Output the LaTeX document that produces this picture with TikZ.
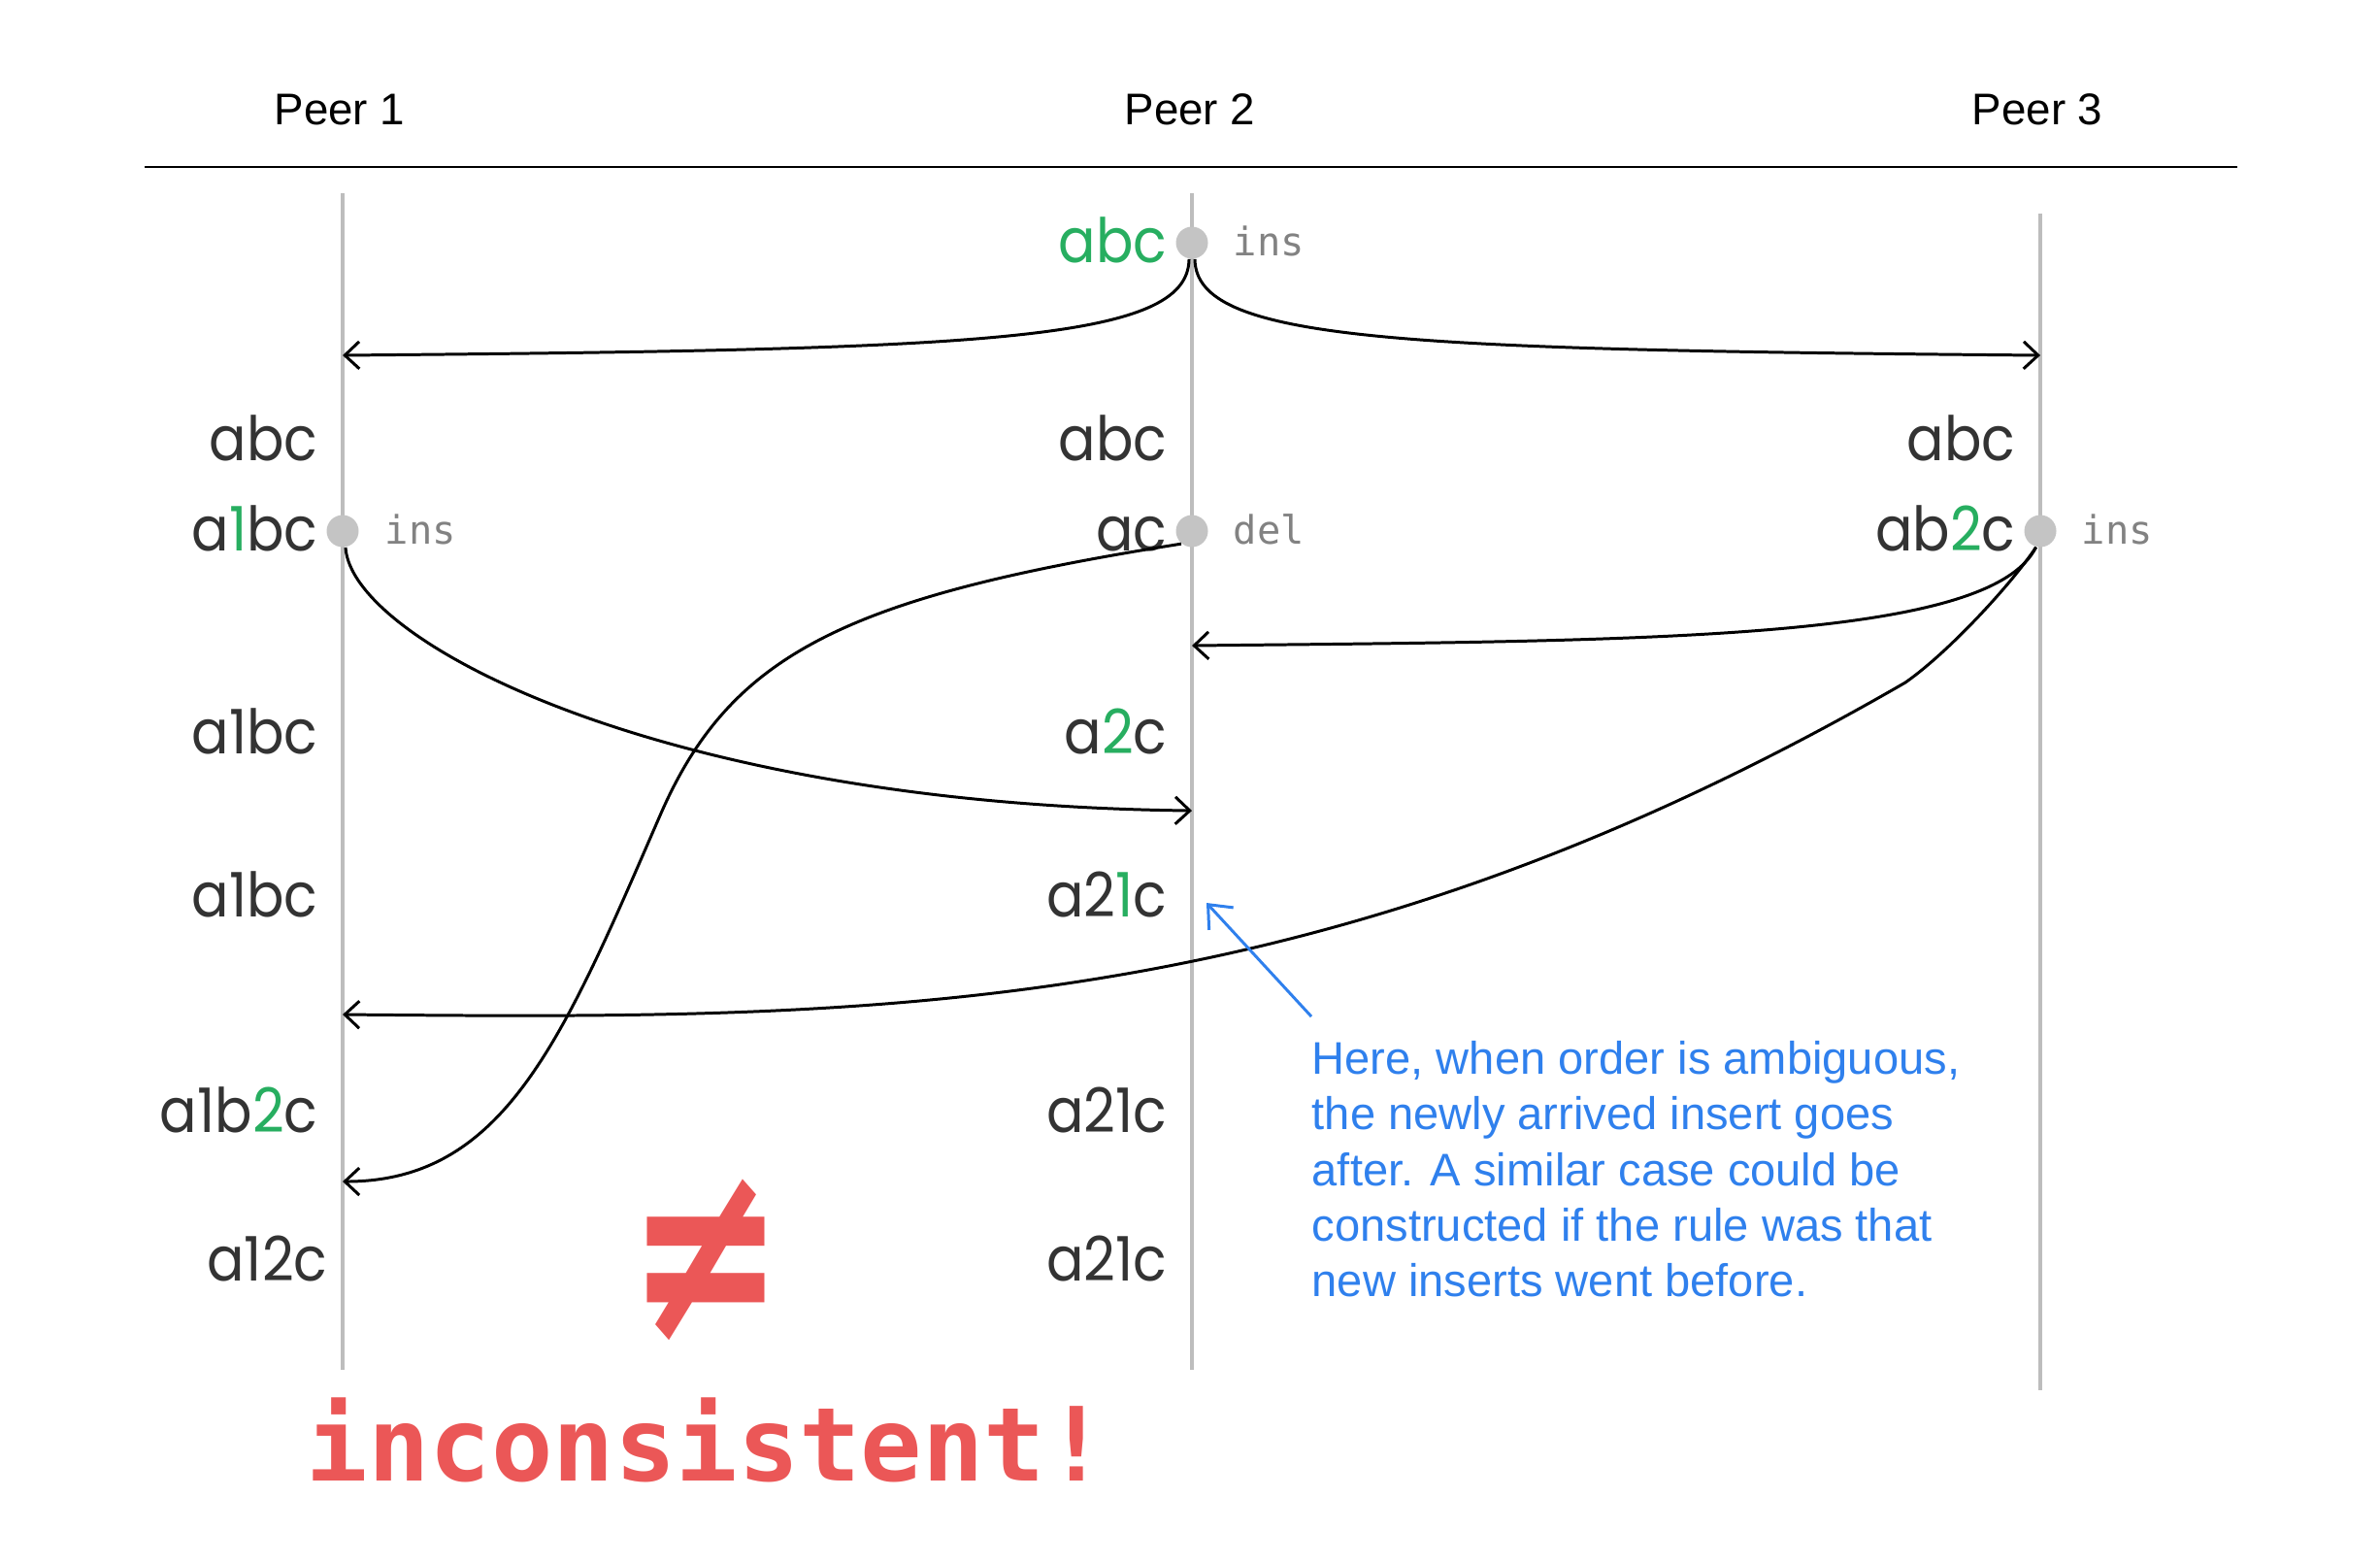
\documentclass[tikz,border=0pt]{standalone}
\usepackage{fontspec}
\setmainfont{Liberation Sans}
\newfontfamily\statefont[FakeStretch=0.9]{Poppins}
\newfontfamily\opfont{DejaVu Sans Mono}
\newfontfamily\symfont{DejaVu Sans}
\usetikzlibrary{arrows.meta, positioning}
\definecolor{txtdark}{HTML}{333333}
\definecolor{insgreen}{HTML}{27AE60}
\definecolor{noteblue}{HTML}{2F80ED}
\definecolor{alarmred}{HTML}{EB5757}
\definecolor{opgray}{HTML}{828282}
\definecolor{lifegray}{HTML}{BDBDBD}
\definecolor{dotgray}{HTML}{C4C4C4}
\newcommand{\grn}[1]{\textcolor{insgreen}{#1}}
\tikzset{
    peerlbl/.style={anchor=base, inner sep=0pt, font=\fontsize{13}{15}\selectfont},
    lifeline/.style={draw=lifegray, line width=1pt},
    state/.style={anchor=base east, inner sep=0pt, text=txtdark,
                  font=\statefont\fontsize{18}{20}\selectfont},
    evdot/.style={circle, fill=dotgray, minimum size=3.3mm, inner sep=0pt},
    oplbl/.style={anchor=base west, inner sep=0pt, text=opgray,
                  font=\opfont\fontsize{11.5}{13}\selectfont},
    msg/.style={-{Straight Barb[length=1.5mm, width=2.8mm]}, line width=0.85pt, draw=black},
    notearrow/.style={-{Straight Barb[length=2mm, width=3.4mm]}, line width=0.85pt, draw=noteblue},
}

\begin{document}
\begin{tikzpicture}
    \useasboundingbox (0,0) rectangle (24.52,-16.10);
    % header
    \node[peerlbl] (p1) at (3.50,-1.28) {Peer 1};
    \node[peerlbl] (p2) at (12.26,-1.28) {Peer 2};
    \node[peerlbl] (p3) at (20.99,-1.28) {Peer 3};
    \draw[line width=0.6pt] (1.49,-1.72) -- (23.05,-1.72);
    % lifelines
    \draw[lifeline] (3.53,-1.99) -- (3.53,-14.11);
    \draw[lifeline] (12.28,-1.99) -- (12.28,-14.11);
    \draw[lifeline] (21.02,-2.20) -- (21.02,-14.32);
    % events
    \node[evdot] (d0) at (12.28,-2.50) {};
    \node[evdot] (d1) at (3.53,-5.47) {};
    \node[evdot] (d2) at (12.28,-5.47) {};
    \node[evdot] (d3) at (21.02,-5.47) {};
    \node[oplbl] (o0) at (12.70,-2.63) {ins};
    \node[oplbl] (o1) at (3.96,-5.60) {ins};
    \node[oplbl] (o2) at (12.70,-5.60) {del};
    \node[oplbl] (o3) at (21.44,-5.60) {ins};
    % document states
    \node[state] (s0) at (12.03,-2.70) {\grn{abc}};
    \node[state] (s1a) at (3.28,-4.74) {abc};
    \node[state] (s2a) at (12.03,-4.74) {abc};
    \node[state] (s3a) at (20.77,-4.74) {abc};
    \node[state] (s1b) at (3.28,-5.67) {a\grn{1}bc};
    \node[state] (s2b) at (12.03,-5.67) {ac};
    \node[state] (s3b) at (20.77,-5.67) {ab\grn{2}c};
    \node[state] (s1c) at (3.28,-7.76) {a1bc};
    \node[state] (s2c) at (12.03,-7.76) {a\grn{2}c};
    \node[state] (s1d) at (3.28,-9.44) {a1bc};
    \node[state] (s2d) at (12.03,-9.44) {a2\grn{1}c};
    \node[state] (s1e) at (3.28,-11.66) {a1b\grn{2}c};
    \node[state] (s2e) at (12.03,-11.66) {a21c};
    \node[state] (s1f) at (3.38,-13.19) {a12c};
    \node[state] (s2f) at (12.03,-13.19) {a21c};
    % message arrivals
    \coordinate (m1) at (3.53,-3.66);
    \coordinate (m2) at (21.02,-3.66);
    \coordinate (m3) at (12.28,-6.65);
    \coordinate (m4) at (12.28,-8.35);
    \coordinate (m5) at (3.53,-10.45);
    \coordinate (m6) at (3.53,-12.17);
    \coordinate (bend) at (19.63,-7.03);
    \coordinate (infl) at (6.80,-8.40);
    \draw[msg] (d0.-100) .. controls (12.24,-3.52) and (10.16,-3.60) .. (m1);
    \draw[msg] (d0.-80) .. controls (12.32,-3.52) and (14.40,-3.60) .. (m2);
    \draw[msg] (d1.-80) .. controls (3.62,-6.60) and (6.80,-8.29) .. (m4);
    \draw[msg] (d3.-105) .. controls (20.50,-6.60) and (17.00,-6.60) .. (m3);
    \draw[msg] (d3.-105) .. controls (20.75,-5.98) and (20.10,-6.70) .. (bend)
        .. controls (13.57,-10.53) and (9.00,-10.50) .. (m5);
    \draw[msg] (d2.-130) .. controls (8.70,-6.15) and (7.52,-6.74) .. (infl)
        .. controls (5.80,-10.70) and (5.20,-12.17) .. (m6);
    % outcome
    \node[text=alarmred, font=\symfont\bfseries\fontsize{55}{60}\selectfont,
          transform shape, yscale=1.35] (neq) at (7.27,-12.98) {≠};
    \node[anchor=base west, inner sep=0pt, text=alarmred,
          font=\opfont\bfseries\fontsize{30}{34}\selectfont] (bad) at (3.15,-15.25) {inconsistent!};
    % note
    \node[anchor=north west, inner sep=0pt, text=noteblue, align=left,
          font=\fontsize{13.4}{16.25}\selectfont] (note) at (13.51,-10.72)
        {Here, when order is ambiguous,\\the newly arrived insert goes\\after. A similar case could be\\constructed if the rule was that\\new inserts went before.};
    \coordinate (tip) at (12.43,-9.30);
    \draw[notearrow] ([yshift=2.5mm]note.north west) -- (tip);
\end{tikzpicture}
\end{document}
